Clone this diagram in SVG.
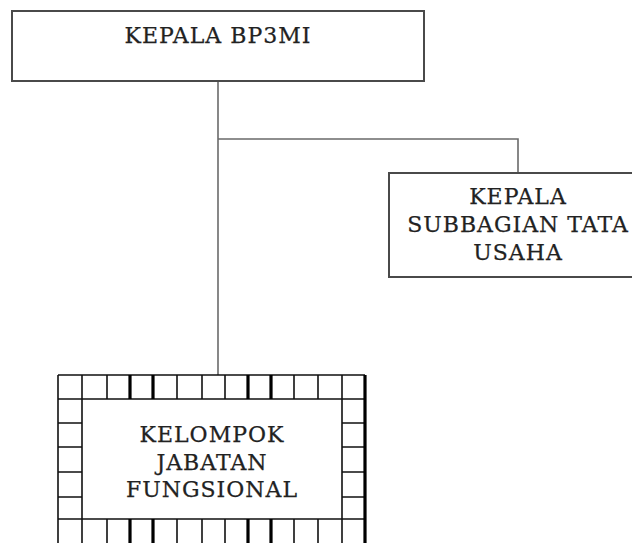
<svg xmlns="http://www.w3.org/2000/svg" width="632" height="543" viewBox="0 0 632 543">
<style>
.box{fill:#fff;stroke:#4a4a4a;stroke-width:2}
.t{font-family:"DejaVu Serif","Liberation Serif",serif;font-size:22px;letter-spacing:1px;fill:#222;stroke:#222;stroke-width:0.25;text-anchor:middle}
.conn{fill:none;stroke:#6a6a6a;stroke-width:1.6}
.g{stroke:#111;stroke-width:1.6;fill:none}
.gk{stroke:#000;stroke-width:3.2;fill:none}
</style>
<rect width="632" height="543" fill="#fff"/>
<g id="connectors">
<path class="conn" d="M218 81 V375"/>
<path class="conn" d="M218 139 H518 V173"/>
</g>
<g id="kepala-bp3mi">
<rect class="box" x="12" y="11" width="412" height="70"/>
<text class="t" x="218" y="43">KEPALA BP3MI</text>
</g>
<g id="kepala-subbagian">
<rect class="box" x="389" y="173" width="260" height="104"/>
<text class="t" x="518" y="204">KEPALA</text>
<text class="t" x="518" y="232">SUBBAGIAN TATA</text>
<text class="t" x="518" y="260">USAHA</text>
</g>
<g id="kelompok-jabatan">
<rect x="82" y="399" width="260" height="120" fill="#fff" stroke="none"/>
<path class="g" d="M58 375 H365 M58 399 H365 M58 519 H365 M58 375 V545 M82 375 V545 M342 375 V545 M58 423 H82 M58 447 H82 M58 472 H82 M58 497 H82 M342 423 H365 M342 447 H365 M342 472 H365 M342 497 H365"/>
<path class="g" d="M107 375 V399 M177 375 V399 M202 375 V399 M225 375 V399 M294 375 V399 M318 375 V399 M107 519 V545 M177 519 V545 M202 519 V545 M225 519 V545 M294 519 V545 M318 519 V545"/>
<path class="gk" d="M130 375 V399 M153 375 V399 M248 375 V399 M271 375 V399 M130 519 V545 M153 519 V545 M248 519 V545 M271 519 V545 M365 375 V545"/>
<text class="t" x="212" y="442">KELOMPOK</text>
<text class="t" x="212" y="470">JABATAN</text>
<text class="t" x="212" y="497">FUNGSIONAL</text>
</g>
</svg>
